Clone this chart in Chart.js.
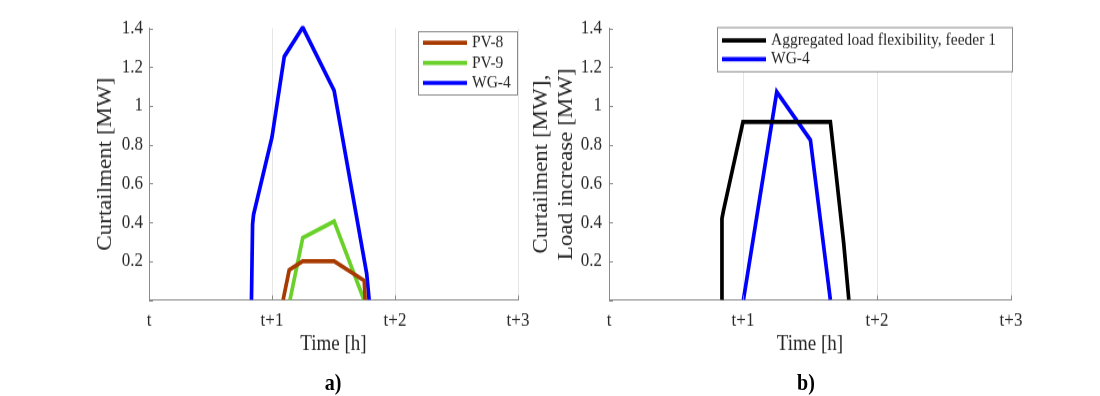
<!DOCTYPE html>
<html>
<head>
<meta charset="utf-8">
<script src="https://cdn.jsdelivr.net/npm/chart.js@4.4.1/dist/chart.umd.min.js"></script>
<style>
    body { margin: 0; background: #fff; }
    #page { width: 1100px; height: 396px; overflow: hidden; }
    /* the source figure is a little taller than wide, so stretch vertically */
    #wrap {
        position: relative; width: 1100px; height: 344px;
        transform: scaleY(1.1512); transform-origin: 0 0;
    }
    #chart-a { position: absolute; left: 0; top: 0; }
    #chart-b { position: absolute; left: 500px; top: 0; }
    .panel-label {
        position: absolute; top: 321px; line-height: 20px;
        font: bold 20px 'Liberation Serif', 'Times New Roman', serif;
        color: #000; transform: translateX(-50%);
    }
</style>
</head>
<body>
<div id="page">
<div id="wrap">
    <canvas id="chart-a" width="550" height="344"></canvas>
    <canvas id="chart-b" width="600" height="344"></canvas>
    <div class="panel-label" style="left:333px">a)</div>
    <div class="panel-label" style="left:806px">b)</div>
</div>
</div>
<script>
// axis ticks
const xTickValues = [0, 1, 2, 3];
const xTickLabels = ['t', 't+1', 't+2', 't+3'];
const yTickValues = [0, 0.2, 0.4, 0.6, 0.8, 1, 1.2, 1.4];
const yTickLabels = ['', '0.2', '0.4', '0.6', '0.8', '1', '1.2', '1.4'];

// panel a) curtailment, time in hours after t
const pv8Time = [1.09, 1.14, 1.25, 1.505, 1.75, 1.757];
const pv8Mw = [0, 0.155, 0.2, 0.2, 0.1, 0];
const pv9Time = [1.146, 1.25, 1.505, 1.748];
const pv9Mw = [0, 0.32, 0.405, 0];
const wg4aTime = [0.833, 0.842, 0.85, 1.0, 1.1, 1.25, 1.505, 1.77, 1.79];
const wg4aMw = [0, 0.39, 0.44, 0.84, 1.255, 1.405, 1.08, 0.135, 0];

// panel b) load flexibility vs WG-4
const aggTime = [0.84, 0.843, 0.854, 1.0, 1.652, 1.752, 1.79];
const aggMw = [0, 0.42, 0.46, 0.918, 0.918, 0.29, 0];
const wg4bTime = [1.003, 1.252, 1.503, 1.652];
const wg4bMw = [0, 1.072, 0.825, 0];

const axisColor = '#8a8a8a';

Chart.defaults.font.family = "'Liberation Serif', 'Times New Roman', serif";
Chart.defaults.color = '#262626';

function toPoints(xs, ys) {
    return xs.map((x, i) => ({ x: x, y: ys[i] }));
}

function series(label, color, xs, ys) {
    return {
        label: label,
        data: toPoints(xs, ys),
        borderColor: color,
        backgroundColor: color,
        borderWidth: 3.7,
        pointRadius: 0,
        tension: 0,
        fill: false,
        clip: { left: 2, top: 2, right: 2, bottom: 0 }
    };
}

// legend box drawn inside the plot, like the matlab one
const boxLegend = {
    id: 'boxLegend',
    afterDraw(chart, args, opts) {
        const ctx = chart.ctx;
        ctx.save();
        ctx.fillStyle = '#fff';
        ctx.fillRect(opts.x, opts.y, opts.width, opts.height);
        ctx.strokeStyle = axisColor;
        ctx.lineWidth = 1;
        ctx.strokeRect(opts.x + 0.5, opts.y + 0.5, opts.width, opts.height);
        ctx.font = "15.5px 'Liberation Serif', 'Times New Roman', serif";
        ctx.textBaseline = 'middle';
        chart.data.datasets.forEach((ds, i) => {
            const y = opts.y + opts.firstRow + i * opts.rowGap;
            ctx.strokeStyle = ds.borderColor;
            ctx.lineWidth = 3.7;
            ctx.beginPath();
            ctx.moveTo(opts.x + 5, y);
            ctx.lineTo(opts.x + 49, y);
            ctx.stroke();
            ctx.fillStyle = '#262626';
            ctx.fillText(ds.label, opts.x + 54, y);
        });
        ctx.restore();
    }
};

// small inward tick marks
const inTicks = {
    id: 'inTicks',
    afterDatasetsDraw(chart) {
        const { ctx, chartArea, scales } = chart;
        ctx.save();
        ctx.strokeStyle = axisColor;
        ctx.lineWidth = 1;
        ctx.beginPath();
        xTickValues.forEach(v => {
            const px = Math.round(scales.x.getPixelForValue(v)) + 0.5;
            ctx.moveTo(px, chartArea.bottom);
            ctx.lineTo(px, chartArea.bottom - 4);
        });
        yTickValues.forEach(v => {
            const py = Math.round(scales.y.getPixelForValue(v)) + 0.5;
            ctx.moveTo(chartArea.left, py);
            ctx.lineTo(chartArea.left + 4, py);
        });
        ctx.stroke();
        ctx.restore();
    }
};

function makeChart(id, datasets, cfg) {
    const ctx = document.getElementById(id).getContext('2d');
    return new Chart(ctx, {
        type: 'line',
        data: { datasets: datasets },
        plugins: [inTicks, boxLegend],
        options: {
            responsive: false,
            animation: false,
            layout: { padding: cfg.padding },
            plugins: {
                legend: { display: false },
                tooltip: { enabled: false },
                boxLegend: cfg.legend
            },
            scales: {
                x: {
                    type: 'linear',
                    min: 0,
                    max: 3,
                    afterBuildTicks: s => { s.ticks = xTickValues.map(v => ({ value: v })); },
                    afterFit: s => { s.height = 83.4; },
                    ticks: {
                        callback: v => xTickLabels[xTickValues.indexOf(v)],
                        font: { size: 17 },
                        padding: 8,
                        maxRotation: 0,
                        autoSkip: false
                    },
                    grid: { color: '#e6e6e6', drawTicks: false },
                    border: { color: axisColor },
                    title: {
                        display: true,
                        text: 'Time [h]',
                        font: { size: 19 },
                        padding: { top: 0, bottom: 33.5 }
                    }
                },
                y: {
                    type: 'linear',
                    min: 0,
                    max: 1.4,
                    afterBuildTicks: s => { s.ticks = yTickValues.map(v => ({ value: v })); },
                    afterFit: s => { s.width = cfg.yWidth; },
                    ticks: {
                        callback: v => yTickLabels[yTickValues.indexOf(v)],
                        font: { size: 17 },
                        padding: cfg.yTickPad
                    },
                    grid: { display: false, drawTicks: false },
                    border: { color: axisColor },
                    title: {
                        display: true,
                        text: cfg.yTitle,
                        font: { size: 20, lineHeight: 1.25 },
                        padding: { top: cfg.yTitlePad, bottom: 0 }
                    }
                }
            }
        }
    });
}

makeChart('chart-a', [
    series('PV-8', '#a63a00', pv8Time, pv8Mw),
    series('PV-9', '#6ad12a', pv9Time, pv9Mw),
    series('WG-4', '#0000ff', wg4aTime, wg4aMw)
], {
    padding: { left: 0, right: 32, top: 24.6, bottom: 0 },
    yWidth: 149,
    yTickPad: 6,
    yTitle: 'Curtailment [MW]',
    yTitlePad: 93,
    legend: { x: 418, y: 27, width: 99, height: 55, firstRow: 10.2, rowGap: 17.4 }
});

makeChart('chart-b', [
    series('Aggregated load flexibility, feeder 1', '#000000', aggTime, aggMw),
    series('WG-4', '#0000ff', wg4bTime, wg4bMw)
], {
    padding: { left: 0, right: 89, top: 24.6, bottom: 0 },
    yWidth: 109,
    yTickPad: 7,
    yTitle: ['Curtailment [MW],', 'Load increase [MW]'],
    yTitlePad: 29,
    legend: { x: 217, y: 23.5, width: 295, height: 38.3, firstRow: 11.7, rowGap: 16.2 }
});
</script>
</body>
</html>
